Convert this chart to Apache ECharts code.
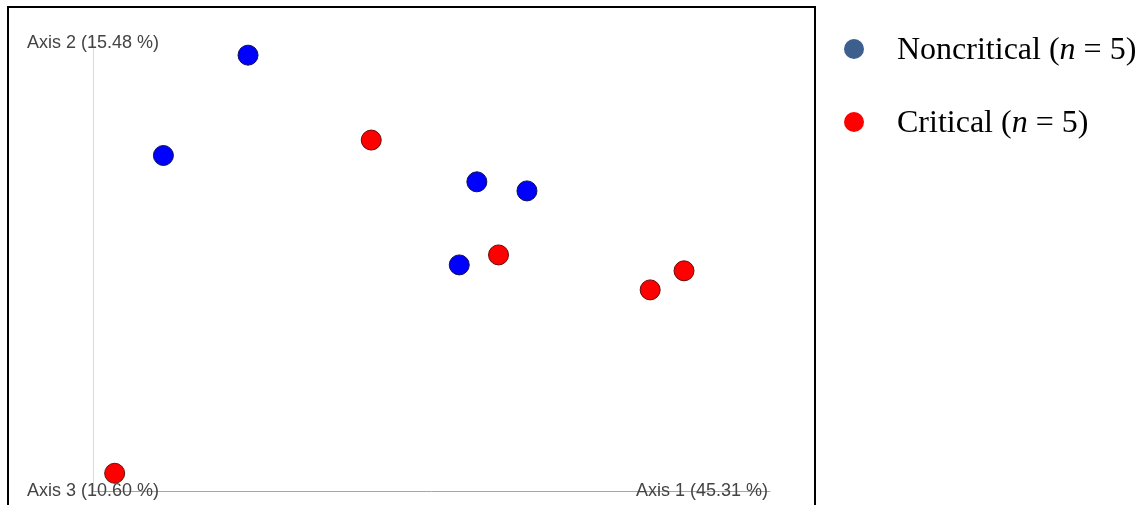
<!DOCTYPE html>
<html>
<head>
<meta charset="utf-8">
<script src="https://cdn.jsdelivr.net/npm/echarts@6/dist/echarts.min.js"></script>
<style>
  html, body { margin: 0; padding: 0; background: #fff; }
  #chart { width: 1143px; height: 505px; }
</style>
</head>
<body>
<div id="chart"></div>
<script>
// PCoA ordination, axis 1 (x) against axis 2 (y), scaled to the plotted extent
const axisTitles = ['Axis 1 (45.31 %)', 'Axis 2 (15.48 %)', 'Axis 3 (10.60 %)'];
const groupNames = ['Noncritical', 'Critical'];

const noncriticalX = [0.229, 0.104, 0.567, 0.641, 0.541];
const noncriticalY = [0.960, 0.739, 0.681, 0.661, 0.498];

const criticalX = [0.411, 0.599, 0.823, 0.873, 0.032];
const criticalY = [0.773, 0.520, 0.443, 0.485, 0.039];

const pairs = (xs, ys) => xs.map((x, i) => [x, ys[i]]);
const noncritical = pairs(noncriticalX, noncriticalY);
const critical = pairs(criticalX, criticalY);
const counts = { Noncritical: noncritical.length, Critical: critical.length };

const chart = echarts.init(document.getElementById('chart'), null, { renderer: 'canvas' });

const serifText = { fontFamily: 'Liberation Serif', fontSize: 32, color: '#000', lineHeight: 40, padding: [4, 0, 0, 0] };
const axisText = { fontFamily: 'Liberation Sans', fontSize: 18, fill: '#444' };

chart.setOption({
  animation: false,
  backgroundColor: '#fff',
  grid: { left: 93, top: 37, right: 373, bottom: 14 },
  xAxis: {
    type: 'value', min: 0, max: 1,
    axisLine: { show: true, lineStyle: { color: '#a6a6a6', width: 1 } },
    axisTick: { show: false }, axisLabel: { show: false }, splitLine: { show: false }
  },
  yAxis: {
    type: 'value', min: 0, max: 1,
    axisLine: { show: true, lineStyle: { color: '#dadada', width: 1 } },
    axisTick: { show: false }, axisLabel: { show: false }, splitLine: { show: false }
  },
  legend: {
    orient: 'vertical',
    left: 839, top: 26,
    itemWidth: 20, itemHeight: 20, itemGap: 37,
    icon: 'circle',
    data: [
      { name: groupNames[0], itemStyle: { color: '#3d5f8e', borderWidth: 0 } },
      { name: groupNames[1], itemStyle: { color: '#ff0000', borderWidth: 0 } }
    ],
    formatter: name => `{s| }{t|${name} (}{i|n}{t| = ${counts[name]})}`,
    textStyle: {
      rich: {
        s: { width: 28 },
        t: serifText,
        i: Object.assign({}, serifText, { fontStyle: 'italic' })
      }
    }
  },
  graphic: [
    {
      type: 'rect', z: 20, silent: true,
      shape: { x: 8, y: 7, width: 807, height: 510 },
      style: { fill: 'none', stroke: '#000', lineWidth: 2 }
    },
    {
      type: 'text', z: 20, x: 93, y: 43,
      style: Object.assign({ text: axisTitles[1], align: 'center', verticalAlign: 'middle' }, axisText)
    },
    {
      type: 'text', z: 20, x: 93, y: 491,
      style: Object.assign({ text: axisTitles[2], align: 'center', verticalAlign: 'middle' }, axisText)
    },
    {
      type: 'text', z: 20, x: 768, y: 491,
      style: Object.assign({ text: axisTitles[0], align: 'right', verticalAlign: 'middle' }, axisText)
    }
  ],
  series: [
    {
      name: groupNames[0], type: 'scatter', data: noncritical,
      symbol: 'circle', symbolSize: 20, z: 5,
      itemStyle: { color: '#0000ff', borderColor: '#10105a', borderWidth: 1, opacity: 1 }
    },
    {
      name: groupNames[1], type: 'scatter', data: critical,
      symbol: 'circle', symbolSize: 20, z: 5,
      itemStyle: { color: '#ff0000', borderColor: '#6a0a0a', borderWidth: 1, opacity: 1 }
    }
  ]
});
</script>
</body>
</html>
